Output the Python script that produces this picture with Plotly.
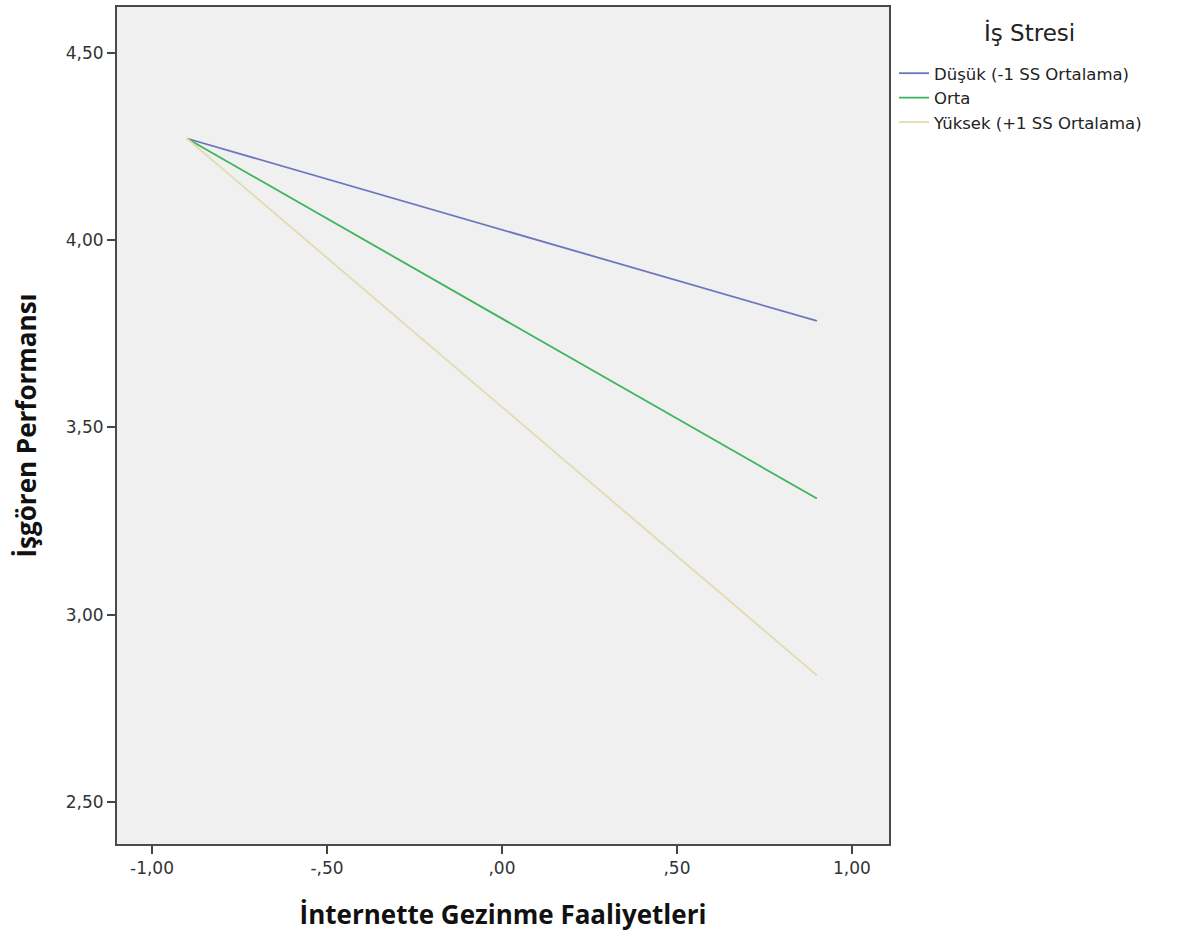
import plotly.graph_objects as go

x_vals = [-0.90, 0.90]
series_names = ["Düşük (-1 SS Ortalama)", "Orta", "Yüksek (+1 SS Ortalama)"]
y_low = [4.271, 3.784]
y_mid = [4.271, 3.310]
y_high = [4.271, 2.838]
colors = ["#6d76bd", "#3cb45a", "#e2dab0"]
legend_title = "İş Stresi"

x_ticks = [-1.0, -0.5, 0.0, 0.5, 1.0]
x_ticktext = ["-1,00", "-,50", ",00", ",50", "1,00"]
y_ticks = [2.5, 3.0, 3.5, 4.0, 4.5]
y_ticktext = ["2,50", "3,00", "3,50", "4,00", "4,50"]

fig = go.Figure()
for name, ys, c in zip(series_names, [y_low, y_mid, y_high], colors):
    fig.add_trace(go.Scatter(x=x_vals, y=ys, mode="lines", name=name,
                             line=dict(color=c, width=1.8)))

axis_common = dict(showline=True, linecolor="#4a4a4a", linewidth=2, mirror=True,
                   ticks="outside", ticklen=8, tickcolor="#444444", tickwidth=2,
                   showgrid=False, zeroline=False,
                   tickfont=dict(family="DejaVu Sans", size=17, color="#333333"))

title_font = dict(family="Open Sans", size=26, weight="bold", color="#111111")

fig.update_layout(
    width=1203, height=941,
    margin=dict(l=117, r=314, t=5, b=97),
    paper_bgcolor="white", plot_bgcolor="#f0f0f0",
    font=dict(family="DejaVu Sans", color="#222222"),
    xaxis=dict(range=[-1.10, 1.106], tickvals=x_ticks, ticktext=x_ticktext,
               title=dict(text="İnternette Gezinme Faaliyetleri", standoff=28,
                          font=title_font),
               **axis_common),
    yaxis=dict(range=[2.388, 4.622], tickvals=y_ticks, ticktext=y_ticktext,
               title=dict(text="İşgören Performansı", standoff=22,
                          font=title_font),
               **axis_common),
    legend=dict(x=1.0065, y=0.9415, xanchor="left", yanchor="top",
                bgcolor="rgba(0,0,0,0)", itemwidth=30, tracegroupgap=0,
                font=dict(family="DejaVu Sans", size=16.5, color="#222222")),
    showlegend=True,
    annotations=[dict(text=legend_title, xref="paper", yref="paper",
                      x=1.1826, y=0.969, xanchor="center", yanchor="middle",
                      showarrow=False,
                      font=dict(family="DejaVu Sans", size=23, color="#222222"))],
)

fig.write_html("out.html")
